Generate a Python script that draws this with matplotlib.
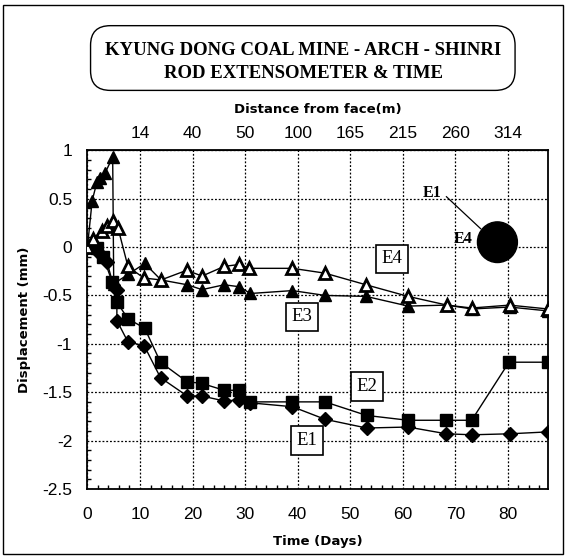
import matplotlib
matplotlib.use("Agg")
import matplotlib.pyplot as plt
from matplotlib.patches import FancyBboxPatch, Rectangle, Ellipse

# ---- data ----
e1_t = [0, 1, 2.4, 3.7, 4.9, 5.6, 5.6, 7.7, 10.8, 13.9, 19.0, 21.8, 26.0, 28.9, 31.0, 39.0, 45.2, 53.1, 61.0, 68.3, 73.2, 80.3, 87.6]
e1_d = [0, 0, -0.07, -0.15, -0.39, -0.44, -0.76, -0.98, -1.02, -1.35, -1.54, -1.54, -1.59, -1.58, -1.61, -1.65, -1.78, -1.87, -1.86, -1.93, -1.94, -1.93, -1.91]

e2_t = [0, 1.8, 3.0, 4.7, 5.6, 7.7, 10.9, 13.9, 18.9, 21.8, 26.0, 28.9, 31.0, 39.0, 45.2, 53.1, 61.0, 68.3, 73.1, 80.2, 87.6]
e2_d = [0, -0.01, -0.1, -0.36, -0.57, -0.74, -0.84, -1.19, -1.39, -1.41, -1.48, -1.48, -1.60, -1.60, -1.60, -1.74, -1.79, -1.79, -1.79, -1.19, -1.19]

e3_t = [0, 0.9, 1.8, 2.4, 3.4, 4.8, 5.0, 7.8, 10.9, 14.0, 19.0, 21.8, 26.0, 28.9, 31.0, 39.0, 45.2, 53.0, 61.0, 68.4, 73.1, 80.3, 87.6]
e3_d = [0, 0.48, 0.67, 0.71, 0.77, 0.93, -0.38, -0.28, -0.17, -0.34, -0.39, -0.44, -0.39, -0.41, -0.48, -0.45, -0.50, -0.51, -0.61, -0.60, -0.64, -0.62, -0.66]

e4_t = [0, 1.0, 2.7, 3.8, 4.9, 5.8, 7.7, 10.7, 14.0, 18.9, 21.8, 26.0, 28.9, 30.8, 39.0, 45.2, 53.0, 61.0, 68.4, 73.1, 80.3, 87.6]
e4_d = [0, 0.08, 0.17, 0.22, 0.27, 0.20, -0.20, -0.32, -0.34, -0.24, -0.30, -0.20, -0.18, -0.22, -0.22, -0.27, -0.39, -0.51, -0.60, -0.63, -0.60, -0.64]

top_tick_pos = [10, 20, 30, 40, 50, 60, 70, 80]
top_tick_labels = ["14", "40", "50", "100", "165", "215", "260", "314"]

serif = ["Liberation Serif", "DejaVu Serif"]
sans = ["Liberation Sans", "DejaVu Sans"]
heavy = ["DejaVu Sans"]
plt.rcParams["font.family"] = serif

fig = plt.figure(figsize=(5.66, 5.58), dpi=100)
fig.patch.set_facecolor("white")
fig.add_artist(Rectangle((0.006, 0.008), 0.988, 0.983, transform=fig.transFigure,
                         fill=False, edgecolor="black", linewidth=1.0))

ax = fig.add_axes([0.1545, 0.1237, 0.8135, 0.607])
ax.set_xlim(0, 87.6)
ax.set_ylim(-2.5, 1)

ax.plot(e1_t, e1_d, color="black", lw=1, marker="D", ms=7.5, mfc="black", mec="black", zorder=3)
ax.plot(e2_t, e2_d, color="black", lw=1, marker="s", ms=8.5, mfc="black", mec="black", zorder=3)
ax.plot(e3_t, e3_d, color="black", lw=1, marker="^", ms=9, mfc="black", mec="black", zorder=3)
ax.plot(e4_t, e4_d, color="black", lw=1, marker="^", ms=9, mfc="white", mec="black", mew=2.0, zorder=4)

ax.set_xticks(range(0, 81, 10))
ax.set_yticks([-2.5, -2, -1.5, -1, -0.5, 0, 0.5, 1])
ax.set_yticklabels(["-2.5", "-2", "-1.5", "-1", "-0.5", "0", "0.5", "1"])
ax.set_xticks([x for x in range(0, 88, 2)], minor=True)
ax.set_yticks([v / 10 for v in range(-25, 11)], minor=True)
ax.tick_params(which="both", direction="in", length=0, labelsize=12.5, colors="black")
ax.tick_params(which="minor", length=3, width=1)
ax.tick_params(axis="x", pad=13)
ax.tick_params(axis="y", pad=11)
for lab in ax.get_xticklabels() + ax.get_yticklabels():
    lab.set_family(sans)
ax.grid(True, which="major", linestyle=(0, (1.5, 1.5)), color="black", linewidth=0.9)
for s in ax.spines.values():
    s.set_linewidth(1.3)

ax.set_xlabel("Time (Days)", fontsize=9.5, fontweight="bold", family=heavy, labelpad=9)
ax.set_ylabel("Displacement (mm)", fontsize=9.5, fontweight="bold", family=heavy, labelpad=8)

top = ax.secondary_xaxis("top")
top.set_xticks(top_tick_pos)
top.set_xticklabels(top_tick_labels)
top.tick_params(direction="in", length=0, labelsize=12.5, pad=7)
for lab in top.get_xticklabels():
    lab.set_family(sans)
top.set_xlabel("Distance from face(m)", fontsize=9.5, fontweight="bold", family=heavy, labelpad=9)

box = dict(boxstyle="square,pad=0.3", fc="white", ec="black", lw=1.2)
ax.text(57.9, -0.12, "E4", fontsize=13.5, ha="center", va="center", bbox=box, zorder=5)
ax.text(40.8, -0.72, "E3", fontsize=13.5, ha="center", va="center", bbox=box, zorder=5)
ax.text(53.2, -1.44, "E2", fontsize=13.5, ha="center", va="center", bbox=box, zorder=5)
ax.text(41.8, -2.0, "E1", fontsize=13.5, ha="center", va="center", bbox=box, zorder=5)

# odd leader / bubble annotation
ax.text(65.5, 0.56, "E1", fontsize=11.5, fontweight="bold", ha="center", va="center", zorder=5)
ax.plot([68.3, 74.8], [0.52, 0.19], color="black", lw=0.9, zorder=5)
ax.text(71.4, 0.08, "E4", fontsize=11.5, fontweight="bold", ha="center", va="center", zorder=5)
ax.add_patch(Ellipse((78.0, 0.05), width=7.6, height=0.42, fc="black", ec="black", zorder=5))

# title box
fig.add_artist(FancyBboxPatch((0.160, 0.838), 0.750, 0.116, boxstyle="round,pad=0,rounding_size=0.035",
                              transform=fig.transFigure, fc="white", ec="black", lw=1))
fig.text(0.5355, 0.910, "KYUNG DONG COAL MINE - ARCH - SHINRI", fontsize=13.5, fontweight="bold",
         ha="center", va="center")
fig.text(0.5355, 0.869, "ROD EXTENSOMETER & TIME", fontsize=13.5, fontweight="bold",
         ha="center", va="center")

fig.savefig("out.png", dpi=100)
